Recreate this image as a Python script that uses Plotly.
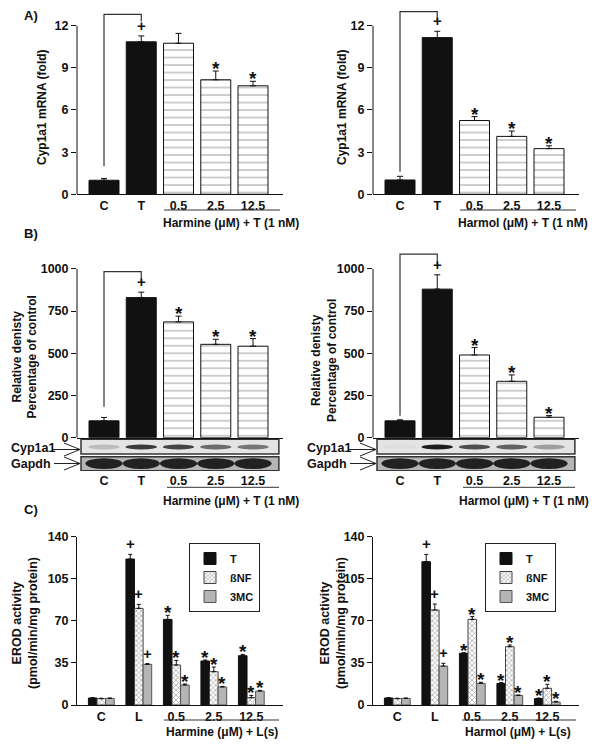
import plotly.graph_objects as go

W, H = 596, 748
FONT = "Liberation Sans, Arial, Helvetica, sans-serif"
INK = "#111111"

# ------------------------------------------------------------------ data
CATS_T = ["C", "T", "0.5", "2.5", "12.5"]
CATS_L = ["C", "L", "0.5", "2.5", "12.5"]

# Panel A: Cyp1a1 mRNA (fold)
A_HARMINE = [1.0, 10.85, 10.75, 8.15, 7.72]
A_HARMINE_ERR = [0.12, 0.42, 0.70, 0.62, 0.32]
A_HARMOL = [1.02, 11.15, 5.25, 4.12, 3.25]
A_HARMOL_ERR = [0.26, 0.45, 0.28, 0.38, 0.20]
A_HARMINE_MARKS = ["", "+", "", "*", "*"]
A_HARMOL_MARKS = ["", "+", "*", "*", "*"]
A_TICKS = [0, 3, 6, 9, 12]

# Panel B: relative density, % of control
B_HARMINE = [100, 830, 686, 553, 542]
B_HARMINE_ERR = [20, 32, 34, 30, 45]
B_HARMOL = [100, 880, 490, 334, 121]
B_HARMOL_ERR = [6, 85, 44, 38, 10]
B_HARMINE_MARKS = ["", "+", "*", "*", "*"]
B_HARMOL_MARKS = ["", "+", "*", "*", "*"]
B_TICKS = [0, 250, 500, 750, 1000]

# Western blot band intensities (0..1)
BLOT_CYP_HARMINE = [0.20, 0.85, 0.80, 0.60, 0.55]
BLOT_CYP_HARMOL = [0.03, 1.00, 0.75, 0.65, 0.35]
BLOT_GAPDH_HARMINE = [0.95, 0.95, 0.95, 0.95, 0.95]
BLOT_GAPDH_HARMOL = [0.95, 0.95, 0.95, 0.95, 0.95]

# Panel C: EROD activity
C_SERIES = ["T", "ßNF", "3MC"]
C_HARMINE = {
    "T": [5.8, 121.4, 71.2, 36.6, 41.0],
    "ßNF": [5.3, 80.4, 33.3, 27.7, 6.1],
    "3MC": [5.5, 33.8, 16.6, 15.0, 11.6],
}
C_HARMINE_ERR = {
    "T": [0.3, 3.9, 3.4, 0.8, 1.1],
    "ßNF": [0.3, 3.3, 3.8, 3.9, 1.9],
    "3MC": [0.3, 0.6, 0.9, 0.5, 0.6],
}
C_HARMOL = {
    "T": [5.8, 119.2, 43.0, 18.0, 5.3],
    "ßNF": [5.3, 79.0, 71.2, 48.5, 13.9],
    "3MC": [5.5, 32.4, 18.0, 8.0, 2.5],
}
C_HARMOL_ERR = {
    "T": [0.3, 6.1, 0.5, 0.6, 0.5],
    "ßNF": [0.3, 5.0, 2.3, 1.4, 3.3],
    "3MC": [0.3, 2.3, 0.9, 0.3, 0.5],
}
C_MARKS = ["", "+", "*", "*", "*"]
C_TICKS = [0, 35, 70, 105, 140]


# ------------------------------------------------------------------ helpers
def fx(px):
    return px / W


def fy(py):
    return 1 - py / H


def refs(n):
    return ("x" if n == 1 else f"x{n}", "y" if n == 1 else f"y{n}")


def keys(n):
    return ("xaxis" if n == 1 else f"xaxis{n}", "yaxis" if n == 1 else f"yaxis{n}")


fig = go.Figure()
shapes, annos = [], []
layout_axes = {}

LEFT_PX = (77, 283)
RIGHT_PX = (373, 579)
RANGE_AB = [-0.725, 4.805]
RANGE_C = [-0.648, 4.845]


def add_axes(n, xpx, ypx, xrange, yrange, cats, yticks, show_xlabels=True,
             yline_native=True, visible_y=True):
    xk, yk = keys(n)
    xr, yr = refs(n)
    layout_axes[xk] = dict(
        domain=[fx(xpx[0]), fx(xpx[1])], range=xrange, anchor=yr,
        tickvals=list(range(len(cats))), ticktext=cats,
        showticklabels=show_xlabels, ticks="", showgrid=False, zeroline=False,
        showline=visible_y, linecolor=INK, linewidth=1,
        tickfont=dict(size=12.5, family=FONT, color=INK, weight="bold"),
    )
    if not visible_y:
        layout_axes[yk] = dict(domain=[fy(ypx[1]), fy(ypx[0])], range=yrange,
                               anchor=xr, visible=False)
        return
    layout_axes[yk] = dict(
        domain=[fy(ypx[1]), fy(ypx[0])], range=yrange, anchor=xr,
        tickvals=yticks, ticks="outside", ticklen=5, tickcolor=INK, tickwidth=1,
        showgrid=False, zeroline=False, showline=yline_native, linecolor=INK,
        linewidth=1,
        tickfont=dict(size=12.5, family=FONT, color=INK, weight="bold"),
    )
    if not yline_native:
        shapes.append(dict(type="line", xref=f"{xr} domain", x0=0, x1=0, yref=yr,
                           y0=yticks[0], y1=yticks[-1],
                           line=dict(color=INK, width=1)))


def mark_annos(n, xs, tops, marks):
    xr, yr = refs(n)
    for x, t, m in zip(xs, tops, marks):
        if not m:
            continue
        annos.append(dict(
            x=x, y=t, xref=xr, yref=yr, text=m, showarrow=False,
            yanchor="bottom", yshift=-10 if m == "*" else 0,
            font=dict(size=19 if m == "*" else 15, family=FONT, color=INK,
                      weight="bold")))


def simple_bars(n, vals, errs, marks):
    xr, yr = refs(n)
    idx = list(range(len(vals)))
    colors = [INK, INK, "white", "white", "white"]
    pats = ["", "", "-", "-", "-"]
    fig.add_trace(go.Bar(
        x=idx, y=vals, xaxis=xr, yaxis=yr, width=0.805, showlegend=False,
        marker=dict(color=colors, line=dict(color=INK, width=1),
                    pattern=dict(shape=pats, size=7.5, solidity=0.14,
                                 fgcolor="#555555", bgcolor="white",
                                 fillmode="overlay")),
        error_y=dict(type="data", array=errs, arrayminus=[0] * len(errs),
                     symmetric=False, color=INK, thickness=1, width=3),
        hoverinfo="skip"))
    mark_annos(n, idx, [v + e for v, e in zip(vals, errs)], marks)


def bracket(n, start, top, end):
    xr, yr = refs(n)
    shapes.append(dict(type="path", xref=xr, yref=yr,
                       path=f"M0,{start} L0,{top} L1,{top} L1,{end}",
                       line=dict(color="#333333", width=1.2)))


C_STYLE = {
    "T": dict(color=INK, line=dict(color=INK, width=1)),
    "ßNF": dict(color="white", line=dict(color="#444444", width=1),
                pattern=dict(shape="x", size=3.5, solidity=0.45,
                             fgcolor="#666666", bgcolor="white",
                             fillmode="overlay")),
    "3MC": dict(color="#b5b5b5", line=dict(color="#555555", width=1)),
}
C_WIDTH = 0.229


def group_bars(n, data, errs, legend):
    xr, yr = refs(n)
    for k, s in enumerate(C_SERIES):
        center = (k - 1) * C_WIDTH
        idx = list(range(len(data[s])))
        fig.add_trace(go.Bar(
            x=idx, y=data[s], xaxis=xr, yaxis=yr, width=C_WIDTH,
            offset=center - C_WIDTH / 2, name=s, legend=legend,
            marker=C_STYLE[s],
            error_y=dict(type="data", array=errs[s],
                         arrayminus=[0] * len(errs[s]), symmetric=False,
                         color=INK, thickness=1, width=2),
            hoverinfo="skip"))
        mark_annos(n, [i + center for i in idx],
                   [v + e for v, e in zip(data[s], errs[s])], C_MARKS)


def blot(n, cyp, gapdh):
    xr, yr = refs(n)
    for y0, y1, fill in ((17, 31.7, "#e4e4e4"), (0.3, 14.3, "#b5b5b5")):
        shapes.append(dict(type="rect", xref=f"{xr} domain", yref=yr,
                           x0=0.0194, x1=0.98, y0=y0, y1=y1, fillcolor=fill,
                           line=dict(color="#333333", width=1.5), layer="below"))
    for i, v in enumerate(cyp):
        g = int(round(228 - 200 * v))
        shapes.append(dict(type="circle", xref=xr, yref=yr, x0=i - 0.42,
                           x1=i + 0.42, y0=21.6, y1=26.4,
                           fillcolor=f"rgb({g},{g},{g})", line=dict(width=0)))
    for i, v in enumerate(gapdh):
        g = int(round(228 - 205 * v))
        shapes.append(dict(type="circle", xref=xr, yref=yr, x0=i - 0.5,
                           x1=i + 0.5, y0=2.0, y1=12.8,
                           fillcolor=f"rgb({g},{g},{g})", line=dict(width=0)))


def arrow(x_line0, x_tip, y):
    path = (f"M{fx(x_line0)},{fy(y)} L{fx(x_tip)},{fy(y)} "
            f"M{fx(x_tip - 16)},{fy(y - 6.5)} L{fx(x_tip)},{fy(y)} "
            f"L{fx(x_tip - 16)},{fy(y + 6.5)}")
    shapes.append(dict(type="path", xref="paper", yref="paper", path=path,
                       line=dict(color="#222222", width=1)))


def text(px, py, t, size=12, angle=0, xanchor="center"):
    annos.append(dict(x=fx(px), y=fy(py), xref="paper", yref="paper", text=t,
                      showarrow=False, textangle=angle, xanchor=xanchor,
                      yanchor="middle",
                      font=dict(size=size, family=FONT, color=INK,
                                weight="bold")))


def underline(x0, x1, y):
    shapes.append(dict(type="line", xref="paper", yref="paper", x0=fx(x0),
                       x1=fx(x1), y0=fy(y), y1=fy(y),
                       line=dict(color="#333333", width=1)))


# ------------------------------------------------------------------ panel A
add_axes(1, LEFT_PX, (8.8, 194.3), RANGE_AB, [0, 13.2], CATS_T, A_TICKS,
         yline_native=False)
add_axes(2, RIGHT_PX, (8.8, 194.3), RANGE_AB, [0, 13.2], CATS_T, A_TICKS,
         yline_native=False)
simple_bars(1, A_HARMINE, A_HARMINE_ERR, A_HARMINE_MARKS)
simple_bars(2, A_HARMOL, A_HARMOL_ERR, A_HARMOL_MARKS)
bracket(1, 2.0, 12.8, 12.3)
bracket(2, 1.6, 13.0, 12.4)

# ------------------------------------------------------------------ panel B
add_axes(3, LEFT_PX, (252, 437.7), RANGE_AB, [0, 1100], CATS_T, B_TICKS,
         show_xlabels=False, yline_native=False)
add_axes(4, RIGHT_PX, (252, 437.7), RANGE_AB, [0, 1100], CATS_T, B_TICKS,
         show_xlabels=False, yline_native=False)
simple_bars(3, B_HARMINE, B_HARMINE_ERR, B_HARMINE_MARKS)
simple_bars(4, B_HARMOL, B_HARMOL_ERR, B_HARMOL_MARKS)
bracket(3, 184, 984, 925)
bracket(4, 130, 1087, 1024)

add_axes(5, LEFT_PX, (439, 471), RANGE_AB, [0, 32], CATS_T, None,
         visible_y=False)
add_axes(6, RIGHT_PX, (439, 471), RANGE_AB, [0, 32], CATS_T, None,
         visible_y=False)
blot(5, BLOT_CYP_HARMINE, BLOT_GAPDH_HARMINE)
blot(6, BLOT_CYP_HARMOL, BLOT_GAPDH_HARMOL)

for off in (0, 296):
    text(9 + off, 447.5, "Cyp1a1", size=12.5, xanchor="left")
    text(9 + off, 463.5, "Gapdh", size=12.5, xanchor="left")
    arrow(52 + off, 80 + off, 449.5)
    arrow(54 + off, 80 + off, 463.5)

# ------------------------------------------------------------------ panel C
add_axes(7, LEFT_PX, (536.7, 705), RANGE_C, [0, 140], CATS_L, C_TICKS)
add_axes(8, RIGHT_PX, (536.7, 705), RANGE_C, [0, 140], CATS_L, C_TICKS)
group_bars(7, C_HARMINE, C_HARMINE_ERR, "legend")
group_bars(8, C_HARMOL, C_HARMOL_ERR, "legend2")

# ------------------------------------------------------------------ labels
text(31, 15.7, "A)", size=13)
text(31, 233, "B)", size=13)
text(31, 510, "C)", size=13)

text(42, 107, "Cyp1a1 mRNA (fold)", size=12, angle=-90)
text(342, 107, "Cyp1a1 mRNA (fold)", size=12, angle=-90)
text(24.5, 357, "Relative denisty<br>Percentage of control", size=12, angle=-90)
text(324, 361, "Relative denisty<br>Percentage of control", size=12, angle=-90)
text(25, 623, "EROD activity<br>(pmol/min/mg protein)", size=12.5, angle=-90)
text(333, 623, "EROD activity<br>(pmol/min/mg protein)", size=12.5, angle=-90)

underline(164, 280, 210)
underline(460, 576, 210)
text(161, 223, "Harmine (μM) + T (1 nM)", xanchor="left")
text(456, 223, "Harmol (μM) + T (1 nM)", xanchor="left")
underline(167, 279, 487.3)
underline(463, 575, 487.3)
text(161, 500.7, "Harmine (μM) + T (1 nM)", xanchor="left")
text(457, 500.7, "Harmol (μM) + T (1 nM)", xanchor="left")
underline(164, 279, 720)
underline(462, 576, 720)
text(164, 731.7, "Harmine (μM) + L(s)", xanchor="left")
text(463, 731.7, "Harmol (μM) + L(s)", xanchor="left")

legend_style = dict(bordercolor="#222222", borderwidth=1, bgcolor="white",
                    xanchor="left", yanchor="top", itemwidth=30,
                    font=dict(size=11, family=FONT, color=INK, weight="bold"))

fig.update_layout(
    width=W, height=H, margin=dict(l=0, r=0, t=0, b=0, autoexpand=False),
    paper_bgcolor="white", plot_bgcolor="white", barmode="overlay",
    font=dict(family=FONT, size=12, color=INK, weight="bold"),
    shapes=shapes, annotations=annos,
    legend=dict(x=fx(189), y=fy(543), **legend_style),
    legend2=dict(x=fx(485), y=fy(543), **legend_style),
    **layout_axes,
)

fig.write_html("out.html",
               config={"displayModeBar": False, "staticPlot": True},
               post_script="document.body.style.margin='0px';"
                           "document.body.style.overflow='hidden';")
